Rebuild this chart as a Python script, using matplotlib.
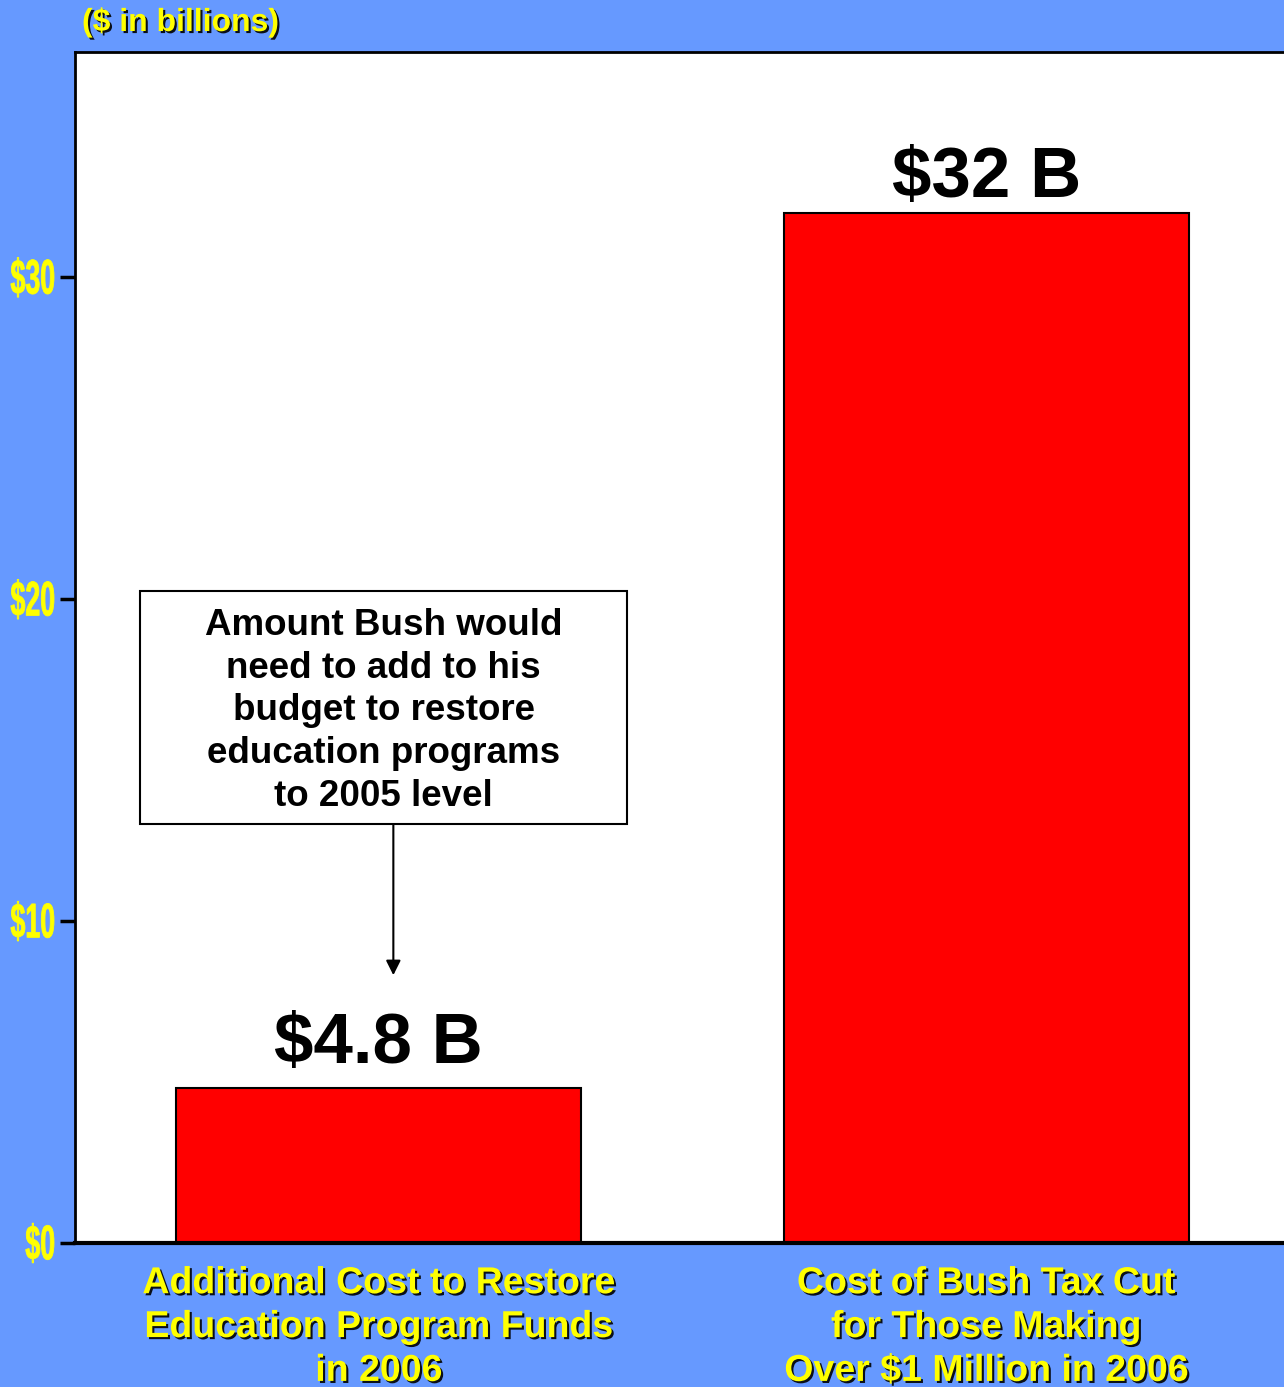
import matplotlib.pyplot as plt
import matplotlib.patheffects as pe
import matplotlib.transforms as mtransforms
from matplotlib.textpath import TextPath
from matplotlib.patches import PathPatch, Rectangle
from matplotlib.font_manager import FontProperties

categories = ["Additional Cost to Restore\nEducation Program Funds\nin 2006",
              "Cost of Bush Tax Cut\nfor Those Making\nOver $1 Million in 2006"]
values = [4.8, 32]
value_labels = ["$4.8 B", "$32 B"]
yticks = [0, 10, 20, 30]
ytick_labels = ["$0", "$10", "$20", "$30"]
note = "Amount Bush would\nneed to add to his\nbudget to restore\neducation programs\nto 2005 level"

blue = "#6699FF"
yellow = "#FFFF00"
DPI = 100

shadow = [pe.SimplePatchShadow(offset=(1.5, -1.5), shadow_rgbFace="black", alpha=0.9), pe.Normal()]

fig = plt.figure(figsize=(12.84, 13.87), dpi=DPI)
fig.patch.set_facecolor(blue)
ax = fig.add_axes([75 / 1284, 1 - 1243 / 1387, 1 - 75 / 1284, (1243 - 52) / 1387])
ax.set_facecolor("white")

ax.bar([0, 1], values, width=0.667, color="#FF0000", edgecolor="black", linewidth=1.5, zorder=2)
ax.set_xlim(-0.5, 1.49)
ax.set_ylim(0, 37)

# value labels above bars
offsets = [0.8, 0.5]
for i, (v, lab) in enumerate(zip(values, value_labels)):
    ax.text(i, v + offsets[i], lab, ha="center", va="baseline", fontsize=51, fontweight="bold",
            family="Liberation Sans", color="black")

# y ticks; labels drawn as squashed text paths (narrow look)
ax.set_yticks(yticks)
ax.set_yticklabels([])
ax.tick_params(axis="y", length=11, width=2.5, color="black")
fp = FontProperties(family="Liberation Sans", weight="bold", size=35)
ytrans = ax.get_yaxis_transform()
for y, lab in zip(yticks, ytick_labels):
    tp = TextPath((0, 0), lab, prop=fp)
    ext = tp.get_extents()
    tr = (mtransforms.Affine2D()
          .translate(-ext.x1, -(ext.y0 + ext.y1) / 2)
          .scale(0.55 * DPI / 72, DPI / 72)
          .translate(-21, 0)
          + mtransforms.ScaledTranslation(0, y, ytrans))
    fig.add_artist(PathPatch(tp, transform=tr, facecolor=yellow, edgecolor=yellow, lw=0.6))

ax.set_xticks([0, 1])
ax.set_xticklabels(categories, family="Liberation Sans", fontsize=27, fontweight="bold",
                   color=yellow, linespacing=1.28)
for t in ax.get_xticklabels():
    t.set_path_effects(shadow)
ax.tick_params(axis="x", length=0, pad=16)

ax.spines["right"].set_visible(False)
ax.spines["left"].set_linewidth(2)
ax.spines["top"].set_linewidth(2)
ax.spines["bottom"].set_linewidth(3)

# note box with arrow to the small bar
ax.add_patch(Rectangle((-0.393, 13.01), 0.802, 7.24, fc="white", ec="black", lw=1.5, zorder=3))
ax.text(0.008, 16.53, note, ha="center", va="center", fontsize=26.5, fontweight="bold",
        family="Liberation Sans", linespacing=1.28, zorder=4)
ax.annotate("", xy=(0.024, 8.32), xytext=(0.024, 13.01),
            arrowprops=dict(arrowstyle="-|>", color="black", lw=1.5, mutation_scale=22,
                            shrinkA=0, shrinkB=0))

fig.text(82 / 1284, 1 - 23 / 1387, "($ in billions)", ha="left", va="center", fontsize=23,
         fontweight="bold", family="Liberation Sans", color=yellow, path_effects=shadow)

fig.savefig("out.png", dpi=DPI, facecolor=blue)
